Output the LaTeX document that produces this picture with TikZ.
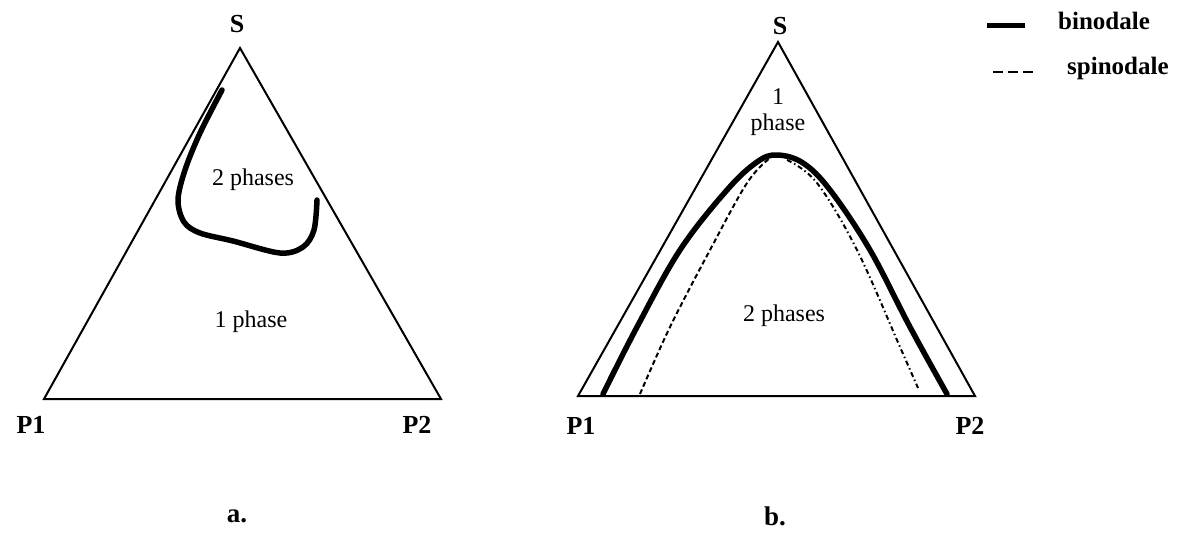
\documentclass[tikz,border=0pt]{standalone}
\usepackage{fontspec}
\setmainfont{Liberation Serif}
\begin{document}
\begin{tikzpicture}[x=1pt,y=-1pt,
  edge/.style={line width=2pt,line join=miter},
  bino/.style={line width=5.5pt,line cap=round,line join=round},
  spino/.style={line width=2pt,dash pattern=on 5pt off 3pt},
  vlabel/.style={font=\fontsize{26}{30}\selectfont\bfseries,inner sep=0pt},
  region/.style={font=\fontsize{24}{28}\selectfont,inner sep=0pt,align=center},
  legtext/.style={font=\fontsize{25}{28}\selectfont\bfseries,inner sep=0pt,anchor=west},
  captxt/.style={font=\fontsize{27}{30}\selectfont\bfseries,inner sep=0pt}]
\useasboundingbox (0,0) rectangle (1178,533);

% ---- triangle a ----
\coordinate (aS) at (240,48);
\coordinate (aP1) at (44,399);
\coordinate (aP2) at (441,399);
\draw[edge] (aS) -- (aP1) -- (aP2) -- cycle;
\node[vlabel] (laS) at (237,24) {S};
\node[vlabel] (laP1) at (31,425) {P1};
\node[vlabel] (laP2) at (417,425) {P2};
\node[region] (a2) at (253,180) {2 phases};
\node[region] (a1) at (251,322) {1 phase};
\draw[bino] plot[smooth,tension=0.55] coordinates {(222,90) (200,133) (185,170) (178,200) (184,222) (200,233) (233,241) (280,253) (303,247) (314,230) (317,200)};
\node[captxt] (ca) at (237,516) {a.};

% ---- triangle b ----
\coordinate (bS) at (778,42);
\coordinate (bP1) at (578,396);
\coordinate (bP2) at (975,396);
\draw[edge] (bS) -- (bP1) -- (bP2) -- cycle;
\node[vlabel] (lbS) at (780,26) {S};
\node[vlabel] (lbP1) at (581,426) {P1};
\node[vlabel] (lbP2) at (970,426) {P2};
\node[region] (b1) at (778,112) {1\\[-2pt]phase};
\node[region] (b2) at (784,316) {2 phases};
\draw[bino] plot[smooth,tension=0.6] coordinates {(603,394) (637,327) (680,250) (727,190) (757,162) (777,155) (803,163) (830,190) (870,250) (910,327) (947,394)};
\draw[spino] plot[smooth,tension=0.6] coordinates {(640,394) (670,327) (710,250) (747,183) (770,158)};
\draw[spino,dash pattern=on 5pt off 3pt on 1.5pt off 3pt] plot[smooth,tension=0.6] coordinates {(787,160) (817,183) (857,250) (900,347) (918,388)};
\node[captxt] (cb) at (775,516) {b.};

% ---- legend ----
\coordinate (l1a) at (987,25);
\coordinate (l1b) at (1025,25);
\draw[line width=5pt] (l1a) -- (l1b);
\node[legtext] (lt1) at (1058,21) {binodale};
\coordinate (l2a) at (993,72);
\coordinate (l2b) at (1033,72);
\draw[line width=2pt,dash pattern=on 10pt off 5pt] (l2a) -- (l2b);
\node[legtext] (lt2) at (1067,68) {spinodale};
\end{tikzpicture}
\end{document}
